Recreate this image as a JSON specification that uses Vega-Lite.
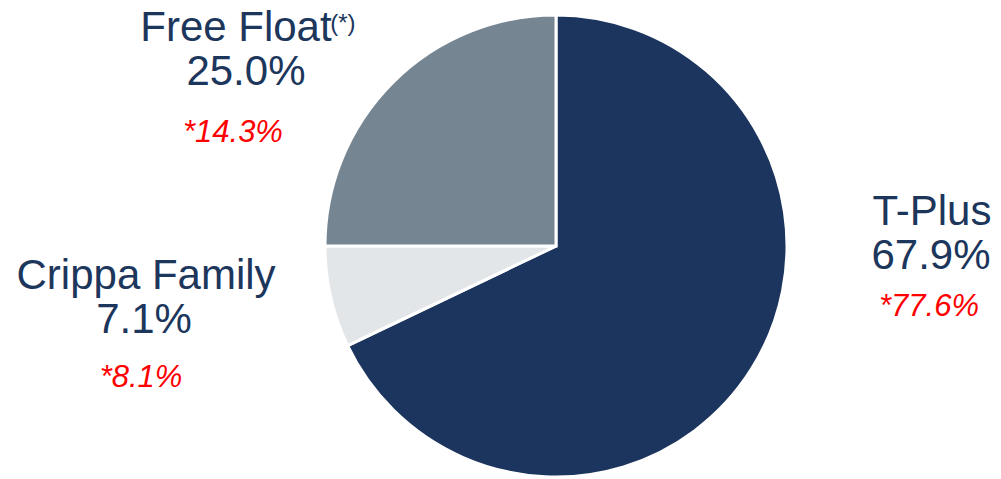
{
  "$schema": "https://vega.github.io/schema/vega-lite/v6.json",
  "width": 890,
  "height": 466,
  "autosize": {"type": "none"},
  "padding": {"left": 111, "top": 13, "right": 0, "bottom": 0},
  "background": "white",
  "config": {"view": {"stroke": null}, "text": {"font": "Liberation Sans"}},
  "data": {"values": [
    {"name": "T-Plus", "share": 67.9, "ord": 1, "pct": "67.9%", "alt": "*77.6%"},
    {"name": "Crippa Family", "share": 7.1, "ord": 2, "pct": "7.1%", "alt": "*8.1%"},
    {"name": "Free Float", "share": 25.0, "ord": 3, "pct": "25.0%", "alt": "*14.3%"}
  ]},
  "encoding": {
    "theta": {"field": "share", "type": "quantitative", "stack": true, "scale": {"domain": [0, 100]}},
    "order": {"field": "ord", "type": "quantitative"}
  },
  "layer": [
    {
      "mark": {"type": "arc", "outerRadius": 231, "stroke": "white", "strokeWidth": 3},
      "encoding": {
        "color": {"field": "name", "type": "nominal", "legend": null,
          "scale": {"domain": ["T-Plus", "Crippa Family", "Free Float"], "range": ["#1c355e", "#e3e6e9", "#768592"]}}
      }
    },
    {
      "mark": {"type": "text", "radius": 260, "dx": 156, "dy": -159.5, "fontSize": 42, "color": "#1c365c", "align": "center", "baseline": "alphabetic"},
      "encoding": {"text": {"condition": {"test": "datum.name === 'T-Plus'", "field": "name"}, "value": ""}}
    },
    {
      "mark": {"type": "text", "radius": 260, "dx": 155, "dy": -116, "fontSize": 42, "color": "#1c365c", "align": "center", "baseline": "alphabetic"},
      "encoding": {"text": {"condition": {"test": "datum.name === 'T-Plus'", "field": "pct"}, "value": ""}}
    },
    {
      "mark": {"type": "text", "radius": 260, "dx": 153, "dy": -68.6, "fontSize": 31, "fontStyle": "italic", "color": "#ff0000", "align": "center", "baseline": "alphabetic"},
      "encoding": {"text": {"condition": {"test": "datum.name === 'T-Plus'", "field": "alt"}, "value": ""}}
    },
    {
      "mark": {"type": "text", "radius": 260, "dx": -156.4, "dy": -14.5, "fontSize": 42, "color": "#1c365c", "align": "center", "baseline": "alphabetic"},
      "encoding": {"text": {"condition": {"test": "datum.name === 'Crippa Family'", "field": "name"}, "value": ""}}
    },
    {
      "mark": {"type": "text", "radius": 260, "dx": -158.4, "dy": 29.5, "fontSize": 42, "color": "#1c365c", "align": "center", "baseline": "alphabetic"},
      "encoding": {"text": {"condition": {"test": "datum.name === 'Crippa Family'", "field": "pct"}, "value": ""}}
    },
    {
      "mark": {"type": "text", "radius": 260, "dx": -161.4, "dy": 83.5, "fontSize": 31, "fontStyle": "italic", "color": "#ff0000", "align": "center", "baseline": "alphabetic"},
      "encoding": {"text": {"condition": {"test": "datum.name === 'Crippa Family'", "field": "alt"}, "value": ""}}
    },
    {
      "mark": {"type": "text", "radius": 260, "dx": -136.2, "dy": -21.2, "fontSize": 42, "color": "#1c365c", "align": "center", "baseline": "alphabetic"},
      "encoding": {"text": {"condition": {"test": "datum.name === 'Free Float'", "field": "name"}, "value": ""}}
    },
    {
      "mark": {"type": "text", "radius": 260, "dx": -42, "dy": -31.5, "fontSize": 24, "color": "#1c365c", "align": "left", "baseline": "alphabetic"},
      "encoding": {"text": {"condition": {"test": "datum.name === 'Free Float'", "value": "(*)"}, "value": ""}}
    },
    {
      "mark": {"type": "text", "radius": 260, "dx": -126.2, "dy": 22.8, "fontSize": 42, "color": "#1c365c", "align": "center", "baseline": "alphabetic"},
      "encoding": {"text": {"condition": {"test": "datum.name === 'Free Float'", "field": "pct"}, "value": ""}}
    },
    {
      "mark": {"type": "text", "radius": 260, "dx": -139.2, "dy": 79.8, "fontSize": 31, "fontStyle": "italic", "color": "#ff0000", "align": "center", "baseline": "alphabetic"},
      "encoding": {"text": {"condition": {"test": "datum.name === 'Free Float'", "field": "alt"}, "value": ""}}
    }
  ]
}
